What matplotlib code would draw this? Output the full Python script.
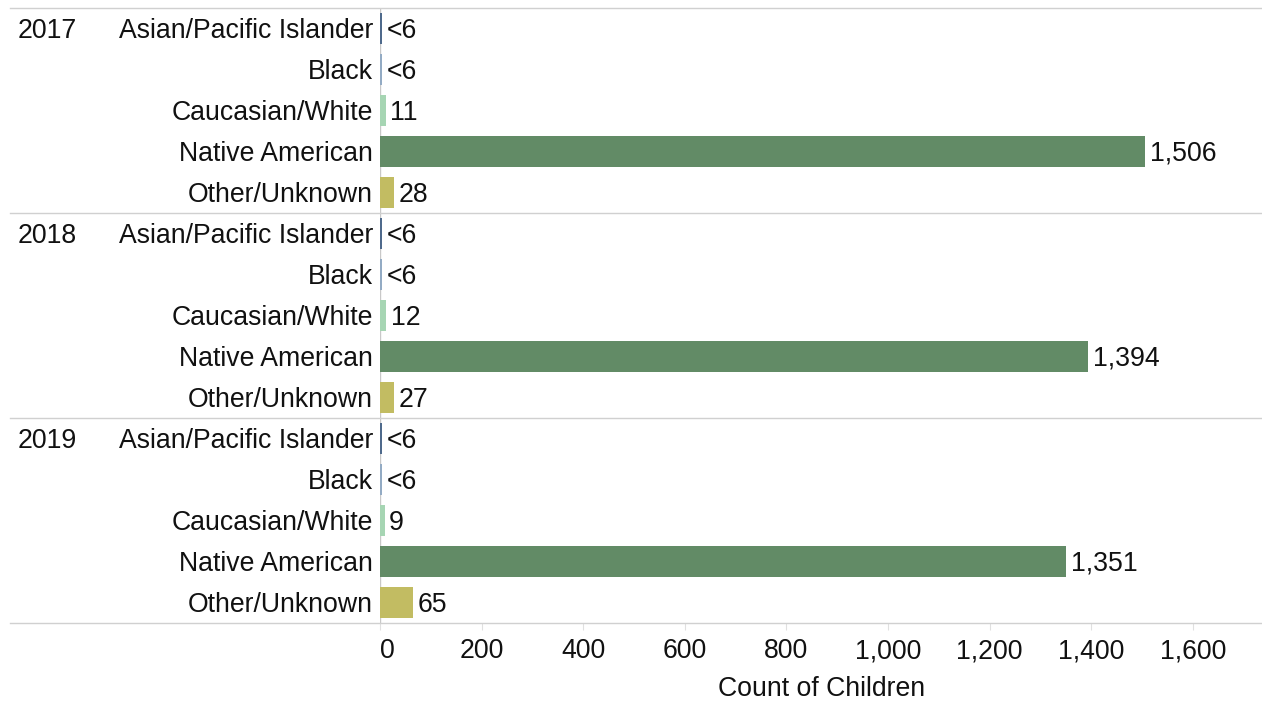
import matplotlib
matplotlib.use("Agg")
import matplotlib.pyplot as plt
from matplotlib.lines import Line2D

plt.rcParams['font.family'] = ['Liberation Sans', 'DejaVu Sans']

years = ["2017", "2018", "2019"]
groups = ["Asian/Pacific Islander", "Black", "Caucasian/White", "Native American", "Other/Unknown"]
# counts below 6 are suppressed; drawn as a minimal sliver
counts_2017 = [4, 4, 11, 1506, 28]
counts_2018 = [4, 4, 12, 1394, 27]
counts_2019 = [4, 4, 9, 1351, 65]
labels_2017 = ["<6", "<6", "11", "1,506", "28"]
labels_2018 = ["<6", "<6", "12", "1,394", "27"]
labels_2019 = ["<6", "<6", "9", "1,351", "65"]
x_ticks = [0, 200, 400, 600, 800, 1000, 1200, 1400, 1600]
x_tick_labels = ["0", "200", "400", "600", "800", "1,000", "1,200", "1,400", "1,600"]
colors = ["#4f6a8c", "#93abc4", "#a6d5b3", "#628b66", "#c2bc62"]

W, H = 1262, 702
fig = plt.figure(figsize=(W / 100, H / 100), dpi=100)

left_px, right_px, top_px, bottom_px = 380, 1262, 8, 623
ax = fig.add_axes([left_px / W, 1 - bottom_px / H, (right_px - left_px) / W, (bottom_px - top_px) / H])

n_rows = len(years) * len(groups)
ax.set_ylim(n_rows, 0)
ax.set_xlim(0, (right_px - left_px) / 0.508)

fs = 19.2
ink = "#111111"
all_counts = [counts_2017, counts_2018, counts_2019]
all_labels = [labels_2017, labels_2018, labels_2019]
dy = 0.05  # nudge text slightly below row centre

for yi, (year, cnts, lbls) in enumerate(zip(years, all_counts, all_labels)):
    base = yi * len(groups)
    for gi, (g, c, lab) in enumerate(zip(groups, cnts, lbls)):
        y = base + gi + 0.5
        ax.barh(y, c, height=0.76, color=colors[gi], edgecolor="none")
        ax.text(c + 9, y + dy, lab, va="center", ha="left", fontsize=fs, color=ink)
        ax.text(-7 / 0.508, y + dy, g, va="center", ha="right", fontsize=fs, color=ink,
                clip_on=False)
    ax.text(-362 / 0.508, base + 0.5 + dy, year, va="center", ha="left", fontsize=fs,
            color=ink, clip_on=False)

# zero line
ax.axvline(0, color="#c8c8c8", lw=1, zorder=0)

for sp in ax.spines.values():
    sp.set_visible(False)
ax.set_yticks([])
ax.set_xticks(x_ticks)
ax.set_xticklabels(x_tick_labels, fontsize=fs, color=ink)
ax.tick_params(axis="x", length=5, color="#e0e0e0", pad=6)
ax.get_xticklabels()[0].set_ha("left")

fig.text((822) / W, 1 - 689 / H, "Count of Children", ha="center", va="center",
         fontsize=fs, color=ink)

# panel separators across the full width
for ypx in [8, 213, 418, 623]:
    fig.add_artist(Line2D([10 / W, 1.0], [1 - ypx / H, 1 - ypx / H],
                          color="#d0d0d0", lw=1))

fig.savefig("out.png", dpi=100)
